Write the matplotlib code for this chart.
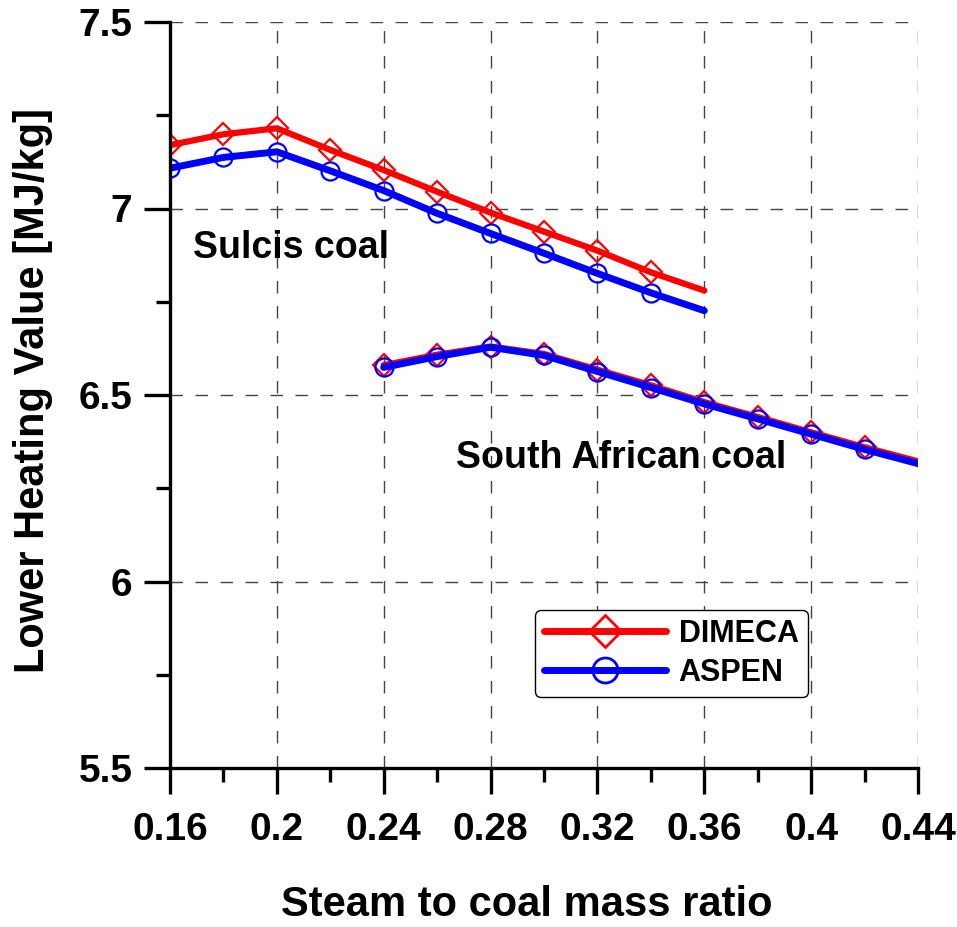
import matplotlib
matplotlib.use("Agg")
import matplotlib.pyplot as plt
from matplotlib.lines import Line2D
from matplotlib.ticker import MultipleLocator

plt.rcParams['font.family'] = ['Liberation Sans', 'DejaVu Sans']
plt.rcParams['font.weight'] = 'bold'

# Lower heating value vs steam-to-coal ratio
sulcis_x = [0.16, 0.18, 0.20, 0.22, 0.24, 0.26, 0.28, 0.30, 0.32, 0.34, 0.36]
sulcis_dimeca = [7.170, 7.199, 7.215, 7.157, 7.103, 7.045, 6.989, 6.938, 6.887, 6.829, 6.780]
sulcis_aspen = [7.108, 7.137, 7.152, 7.101, 7.048, 6.987, 6.933, 6.880, 6.826, 6.774, 6.726]

safrica_x = [0.24, 0.26, 0.28, 0.30, 0.32, 0.34, 0.36, 0.38, 0.40, 0.42, 0.44]
safrica_dimeca = [6.580, 6.608, 6.630, 6.610, 6.568, 6.526, 6.481, 6.441, 6.400, 6.360, 6.322]
safrica_aspen = [6.574, 6.603, 6.628, 6.606, 6.563, 6.520, 6.476, 6.436, 6.395, 6.354, 6.316]

xticks = [0.16, 0.2, 0.24, 0.28, 0.32, 0.36, 0.4, 0.44]
xtick_labels = ['0.16', '0.2', '0.24', '0.28', '0.32', '0.36', '0.4', '0.44']
yticks = [5.5, 6.0, 6.5, 7.0, 7.5]
ytick_labels = ['5.5', '6', '6.5', '7', '7.5']

RED = '#ff0000'
BLUE = '#0000ff'

fig = plt.figure(figsize=(9.57, 9.27), dpi=100)
ax = fig.add_axes([170 / 957, 1 - 768 / 927, 748 / 957, 746 / 927])

red_style = dict(color=RED, lw=4.5, marker='D', ms=11, mfc='none', mec=RED, mew=1.6,
                 solid_joinstyle='round', solid_capstyle='round', markevery=slice(0, -1))
blue_style = dict(color=BLUE, lw=5.0, marker='o', ms=13, mfc='none', mec=BLUE, mew=1.6,
                  solid_joinstyle='round', solid_capstyle='round', markevery=slice(0, -1))

ax.plot(sulcis_x, sulcis_dimeca, zorder=3, **red_style)
ax.plot(sulcis_x, sulcis_aspen, zorder=4, **blue_style)
ax.plot(safrica_x, safrica_dimeca, zorder=3, **red_style)
ax.plot(safrica_x, safrica_aspen, zorder=4, **blue_style)

ax.set_xlim(0.16, 0.44)
ax.set_ylim(5.5, 7.5)
ax.set_xticks(xticks)
ax.set_xticklabels(xtick_labels)
ax.set_yticks(yticks)
ax.set_yticklabels(ytick_labels)
ax.xaxis.set_minor_locator(MultipleLocator(0.02))
ax.yaxis.set_minor_locator(MultipleLocator(0.25))

ax.grid(True, which='major', color='#444444', lw=1.0, linestyle=(0, (9, 9)))
ax.set_axisbelow(True)

for side in ('top', 'right'):
    ax.spines[side].set_visible(False)
for side in ('left', 'bottom'):
    ax.spines[side].set_linewidth(2.4)
    ax.spines[side].set_zorder(5)

ax.tick_params(which='major', direction='out', length=19, width=2.4, labelsize=28, pad=8)
ax.tick_params(axis='x', which='major', pad=13)
ax.tick_params(which='minor', direction='out', length=10, width=2.4)
for lab in ax.get_xticklabels() + ax.get_yticklabels():
    lab.set_fontweight('bold')

ax.set_xlabel('Steam to coal mass ratio', fontsize=30, fontweight='bold')
ax.set_ylabel('Lower Heating Value [MJ/kg]', fontsize=30, fontweight='bold')
ax.xaxis.set_label_coords((527 - 170) / 748, -(905 - 768) / 746)
ax.yaxis.set_label_coords(-(170 - 33) / 748, (768 - 390) / 746)
ax.xaxis.label.set_va('center')
ax.yaxis.label.set_va('center')

ax.text(0.1686, 6.894, 'Sulcis coal', fontsize=27, fontweight='bold', va='center', ha='left')
ax.text(0.2671, 6.331, 'South African coal', fontsize=27, fontweight='bold', va='center', ha='left')

handles = [
    Line2D([], [], color=RED, lw=5, marker='D', ms=16, mfc='none', mec=RED, mew=2,
           solid_capstyle='round'),
    Line2D([], [], color=BLUE, lw=5, marker='o', ms=18, mfc='none', mec=BLUE, mew=2,
           solid_capstyle='round'),
]
leg = ax.legend(handles, ['DIMECA', 'ASPEN'], loc='lower left',
                bbox_to_anchor=(0.488, 0.095), borderaxespad=0,
                prop={'size': 22, 'weight': 'bold'}, handlelength=4.0,
                handletextpad=0.4, labelspacing=0.3, borderpad=0.3,
                fancybox=True, frameon=True, framealpha=1, edgecolor='black')
leg.get_frame().set_linewidth(1.0)
leg.set_zorder(6)

fig.savefig('out.png', dpi=100)
